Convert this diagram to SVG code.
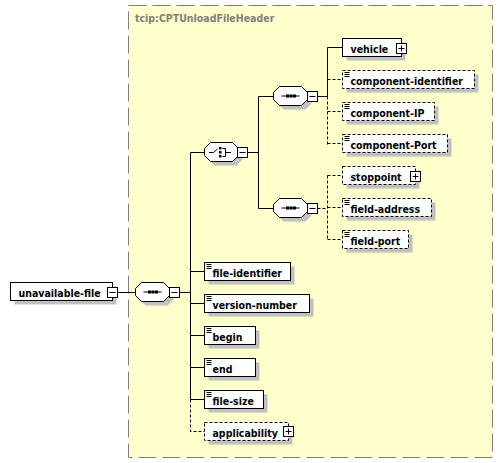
<svg xmlns="http://www.w3.org/2000/svg" width="503" height="463" viewBox="0 0 503 463">
<style>
.box{fill:#fff;stroke:#000;stroke-width:1}
.opt{stroke-dasharray:3,2}
.sh{fill:#c0c0c0;stroke:none}
.ln{stroke:#000;stroke-width:1;fill:none}
.dl{stroke:#000;stroke-width:1;fill:none;stroke-dasharray:3,2}
.t{font-family:"DejaVu Sans Condensed","DejaVu Sans",sans-serif;font-stretch:condensed;font-weight:bold;font-size:10.5px;fill:#000}
.pm{fill:#fff;stroke:#000;stroke-width:1}
.ic{stroke:#000;stroke-width:1;fill:none}
</style>
<defs>
<g id="minus"><rect class="pm" x="0" y="0" width="10" height="10"/><path class="ic" d="M2,5H8"/></g>
<g id="plus"><rect class="pm" x="0" y="0" width="10" height="10"/><path class="ic" d="M2,5H8M5,2V8"/></g>
<path id="eicon" class="ic" d="M2,2H7M2,4H7M2,6H7"/>
<path id="oct" d="M6,0H28L34,6V13L28,19H6L0,13V6Z"/>
<g id="seqicon"><path class="ic" d="M8,9.5H26"/><rect x="12.5" y="8" width="3" height="3" fill="#000"/><rect x="16" y="8" width="3" height="3" fill="#000"/><rect x="19.5" y="8" width="3" height="3" fill="#000"/></g>
</defs>

<g id="type-box">
<rect x="128.5" y="5.5" width="364" height="452" fill="#ffffcc" stroke="#808080" stroke-width="1" stroke-dasharray="18,6"/>
<text class="t" x="135" y="22" style="fill:#808080">tcip:CPTUnloadFileHeader</text>
</g>

<g id="connectors">
<path class="ln" d="M117.5,292.5H135.5"/>
<path class="ln" d="M179.5,292.5H190.5"/>
<path class="ln" d="M190.5,152.5V399.5"/>
<path class="dl" d="M190.5,399.5V431.5H204.5"/>
<path class="ln" d="M190.5,152.5H204.5M190.5,271.5H204.5M190.5,303.5H204.5M190.5,335.5H204.5M190.5,367.5H204.5M190.5,399.5H204.5"/>
<path class="ln" d="M247.5,152.5H258.5M258.5,96.5V208.5M258.5,96.5H273.5M258.5,208.5H273.5"/>
<path class="ln" d="M317.5,96.5H327.5M327.5,96.5V47.5H342.5"/>
<path class="dl" d="M327.5,96.5V144.5M327.5,79.5H342.5M327.5,111.5H342.5M327.5,143.5H342.5"/>
<path class="dl" d="M317.5,208.5H327.5M327.5,175.5V239.5M327.5,175.5H342.5M327.5,207.5H342.5M327.5,239.5H342.5"/>
</g>

<g id="unavailable-file">
<rect class="sh" x="14.5" y="286.5" width="102" height="18"/>
<rect class="box" x="10.5" y="282.5" width="102" height="18"/>
<text class="t" x="18.5" y="296.5">unavailable-file</text>
<use href="#minus" x="107.5" y="287.5"/>
</g>

<g id="seq-main">
<use href="#oct" x="139.5" y="286.5" fill="#c0c0c0"/>
<use href="#oct" x="135.5" y="282.5" fill="#fff" stroke="#000"/>
<use href="#seqicon" x="135.5" y="282.5"/>
<use href="#minus" x="169.5" y="287.5"/>
</g>

<g id="choice">
<use href="#oct" x="208.5" y="146.5" fill="#c0c0c0"/>
<use href="#oct" x="204.5" y="142.5" fill="#fff" stroke="#000"/>
<path class="ic" d="M209,152.5H213.5L217.5,149"/>
<rect x="219" y="147" width="2.5" height="2.5" fill="#000"/>
<rect x="219" y="151" width="2.5" height="2.5" fill="#000"/>
<rect x="219" y="155" width="2.5" height="2.5" fill="#000"/>
<path class="ic" d="M222.5,148.5H225.5V156.5H222.5M225.5,152.5H231"/>
<use href="#minus" x="237.5" y="147.5"/>
</g>

<g id="seq-1">
<use href="#oct" x="277.5" y="90.5" fill="#c0c0c0"/>
<use href="#oct" x="273.5" y="86.5" fill="#fff" stroke="#000"/>
<use href="#seqicon" x="273.5" y="86.5"/>
<use href="#minus" x="307.5" y="91.5"/>
</g>

<g id="seq-2">
<use href="#oct" x="277.5" y="202.5" fill="#c0c0c0"/>
<use href="#oct" x="273.5" y="198.5" fill="#fff" stroke="#000"/>
<use href="#seqicon" x="273.5" y="198.5"/>
<use href="#minus" x="307.5" y="203.5"/>
</g>

<g id="vehicle">
<rect class="sh" x="346.5" y="42.5" width="59" height="18"/>
<rect class="box" x="342.5" y="38.5" width="59" height="18"/>
<text class="t" x="350.5" y="52.5">vehicle</text>
<use href="#plus" x="396.5" y="43.5"/>
</g>

<g id="component-identifier">
<rect class="sh" x="346.5" y="74.5" width="132" height="18"/>
<rect class="box opt" x="342.5" y="70.5" width="132" height="18"/>
<use href="#eicon" x="342.5" y="70.5"/>
<text class="t" x="350.5" y="84.5">component-identifier</text>
</g>

<g id="component-IP">
<rect class="sh" x="346.5" y="106.5" width="92" height="18"/>
<rect class="box opt" x="342.5" y="102.5" width="92" height="18"/>
<use href="#eicon" x="342.5" y="102.5"/>
<text class="t" x="350.5" y="116.5">component-IP</text>
</g>

<g id="component-Port">
<rect class="sh" x="346.5" y="138.5" width="105" height="18"/>
<rect class="box opt" x="342.5" y="134.5" width="105" height="18"/>
<use href="#eicon" x="342.5" y="134.5"/>
<text class="t" x="350.5" y="148.5">component-Port</text>
</g>

<g id="stoppoint">
<rect class="sh" x="346.5" y="170.5" width="73" height="18"/>
<rect class="box opt" x="342.5" y="166.5" width="73" height="18"/>
<text class="t" x="350.5" y="180.5">stoppoint</text>
<use href="#plus" x="410.5" y="171.5"/>
</g>

<g id="field-address">
<rect class="sh" x="346.5" y="202.5" width="89" height="18"/>
<rect class="box opt" x="342.5" y="198.5" width="89" height="18"/>
<use href="#eicon" x="342.5" y="198.5"/>
<text class="t" x="350.5" y="212.5">field-address</text>
</g>

<g id="field-port">
<rect class="sh" x="346.5" y="234.5" width="66" height="18"/>
<rect class="box opt" x="342.5" y="230.5" width="66" height="18"/>
<use href="#eicon" x="342.5" y="230.5"/>
<text class="t" x="350.5" y="244.5">field-port</text>
</g>

<g id="file-identifier">
<rect class="sh" x="208.5" y="266.5" width="86" height="18"/>
<rect class="box" x="204.5" y="262.5" width="86" height="18"/>
<use href="#eicon" x="204.5" y="262.5"/>
<text class="t" x="212.5" y="276.5">file-identifier</text>
</g>

<g id="version-number">
<rect class="sh" x="208.5" y="298.5" width="105" height="18"/>
<rect class="box" x="204.5" y="294.5" width="105" height="18"/>
<use href="#eicon" x="204.5" y="294.5"/>
<text class="t" x="212.5" y="308.5">version-number</text>
</g>

<g id="begin">
<rect class="sh" x="208.5" y="330.5" width="51" height="18"/>
<rect class="box" x="204.5" y="326.5" width="51" height="18"/>
<use href="#eicon" x="204.5" y="326.5"/>
<text class="t" x="212.5" y="340.5">begin</text>
</g>

<g id="end">
<rect class="sh" x="208.5" y="362.5" width="51" height="18"/>
<rect class="box" x="204.5" y="358.5" width="51" height="18"/>
<use href="#eicon" x="204.5" y="358.5"/>
<text class="t" x="212.5" y="372.5">end</text>
</g>

<g id="file-size">
<rect class="sh" x="208.5" y="394.5" width="59" height="18"/>
<rect class="box" x="204.5" y="390.5" width="59" height="18"/>
<use href="#eicon" x="204.5" y="390.5"/>
<text class="t" x="212.5" y="404.5">file-size</text>
</g>

<g id="applicability">
<rect class="sh" x="208.5" y="426.5" width="84" height="18"/>
<rect class="box opt" x="204.5" y="422.5" width="84" height="18"/>
<text class="t" x="212.5" y="436.5">applicability</text>
<use href="#plus" x="283.5" y="426.5"/>
</g>
</svg>
